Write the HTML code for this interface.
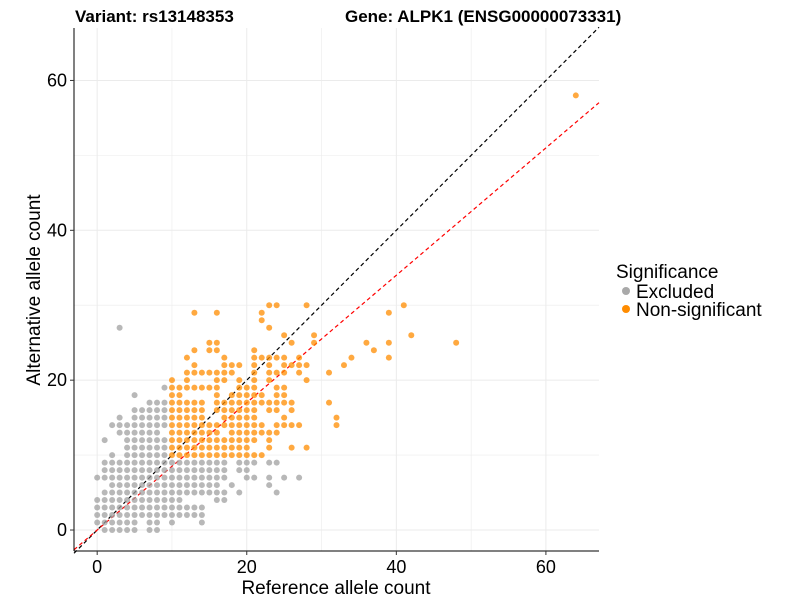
<!DOCTYPE html>
<html><head><meta charset="utf-8"><style>
body{margin:0;background:#fff}
svg text{font-family:"Liberation Sans",Arial,sans-serif}
</style></head><body>
<svg id="chart" width="800" height="600" xmlns="http://www.w3.org/2000/svg">
<text x="75" y="22" font-size="17" font-weight="bold">Variant: rs13148353</text>
<text x="345" y="22" font-size="17" font-weight="bold">Gene: ALPK1 (ENSG00000073331)</text>
<g id="grid"></g>
<g id="lines"></g>
<g id="pts"></g>
<g id="axes"></g>
<text x="336" y="594" font-size="19" text-anchor="middle">Reference allele count</text>
<text transform="translate(40,290) rotate(-90)" font-size="19" text-anchor="middle">Alternative allele count</text>
<g>
<text x="616" y="278" font-size="19">Significance</text>
<circle cx="626" cy="291" r="4" fill="#a9a9a9"/>
<text x="636" y="298" font-size="19">Excluded</text>
<circle cx="626" cy="309" r="4" fill="#ff8c00"/>
<text x="636" y="316" font-size="19">Non-significant</text>
</g>
</svg>
<script>
const xTicks=[0,20,40,60];
const yTicks=[0,20,40,60];
const minorTicks=[10,30,50];
const excludedRows={0:[1,2,3,4,5,7,8],1:[0,1,2,3,4,5,7,8,10,14],2:[0,1,2,3,4,5,6,7,8,9,10,11,12,13,14],3:[0,1,2,3,4,5,6,7,8,9,10,11,12,13,14],4:[0,1,2,3,4,5,6,7,8,9,10,11,16,17],5:[1,2,3,4,5,6,7,8,9,10,11,12,13,14,15,16,17,19,24],6:[2,3,4,5,6,7,8,9,10,11,12,13,14,15,16,18,23],7:[0,1,2,3,4,5,6,7,8,9,10,11,12,13,14,15,16,17,20,21,23,25,27],8:[1,2,3,4,5,6,7,8,9,10,11,12,13,14,15,16,17,19,20],9:[1,2,3,4,5,6,7,8,9,10,11,12,13,14,15,16,17,19,20,21,23,24],10:[2,4,5,6,7,8,9],11:[4,5,6,7,8,9],12:[1,4,5,6,7,8,9],13:[3,4,5,6,7,8],14:[2,3,4,5,6,7,8,9],15:[3,5,6,7,8,9],16:[5,6,7,8,9],17:[7,8,9],18:[5],19:[9],27:[3]};
const nonsigRows={10:[10,11,12,13,14,15,16,17,18,19,20,21,22],11:[10,11,12,13,14,15,16,17,18,19,20,23,26,28],12:[10,11,12,13,14,15,16,17,18,19,20,21,23],13:[10,11,12,13,14,15,16,18,19,20,21,22,23,24],14:[10,11,12,13,14,15,16,17,18,19,20,21,22,24,25,26,27,32],15:[10,11,12,13,14,17,18,19,20,21,25,32],16:[10,11,12,13,14,16,17,18,19,20,21,23,24,26],17:[10,11,12,13,14,16,17,18,19,20,21,22,23,24,25,26,31],18:[10,11,16,18,19,20,21,22,24,25],19:[10,11,12,13,14,15,16,19,20,21,24,25],20:[10,12,16,17,19,21,23,28],21:[12,13,14,15,16,17,18,21,23,24,25,27,31],22:[13,17,18,19,21,23,25,26,27,28,33],23:[12,17,21,22,23,24,25,27,34,39],24:[13,15,16,21,37],25:[15,16,26,29,36,39,48],26:[25,29,42],27:[23],28:[22],29:[13,16,22,39],30:[23,24,28,41],58:[64]};
const redSlope=0.85;

const NS="http://www.w3.org/2000/svg";
const L=74,R=599,T=28,B=551,xmin=-3.1,xmax=67.1,ymin=-2.8,ymax=67;
const sx=v=>L+(v-xmin)/(xmax-xmin)*(R-L);
const sy=v=>B-(v-ymin)/(ymax-ymin)*(B-T);
function mk(tag,attrs,parent){const e=document.createElementNS(NS,tag);for(const k in attrs)e.setAttribute(k,attrs[k]);parent.appendChild(e);return e;}
const grid=document.getElementById('grid');
xTicks.concat(minorTicks).forEach(v=>{
 const l=mk('line',{x1:sx(v),x2:sx(v),y1:T,y2:B,stroke:'#ebebeb','stroke-width':minorTicks.includes(v)?0.6:1},grid);
 
 
});
yTicks.concat(minorTicks).forEach(v=>{
 const l=mk('line',{x1:L,x2:R,y1:sy(v),y2:sy(v),stroke:'#ebebeb','stroke-width':minorTicks.includes(v)?0.6:1},grid);
 
 
});
const pts=document.getElementById('pts');
function drawRows(rows,color,name){
 for(const y in rows){rows[y].forEach(x=>{
  const c=mk('circle',{cx:sx(x),cy:sy(+y),r:3,fill:color,'fill-opacity':0.75},pts);
  
  
 });}
}
drawRows(excludedRows,'#a0a0a0','point-excluded');
drawRows(nonsigRows,'#ff8c00','point-nonsignificant');
const lines=document.getElementById('lines');
const d1=mk('line',{x1:sx(xmin),y1:sy(xmin),x2:sx(xmax),y2:sy(xmax),stroke:'#000','stroke-width':1.2,'stroke-dasharray':'4,3'},lines);


const d2=mk('line',{x1:sx(xmin),y1:sy(xmin*redSlope),x2:sx(xmax),y2:sy(xmax*redSlope),stroke:'#ff0000','stroke-width':1.2,'stroke-dasharray':'4,3'},lines);


const axes=document.getElementById('axes');
const ax=mk('line',{x1:L,x2:R,y1:B,y2:B,stroke:'#000','stroke-width':1},axes);


const ay=mk('line',{x1:L,x2:L,y1:T,y2:B,stroke:'#000','stroke-width':1},axes);


xTicks.forEach(v=>{
 const t=mk('line',{x1:sx(v),x2:sx(v),y1:B,y2:B+4,stroke:'#333'},axes);
 
 
 const s=mk('text',{x:sx(v),y:B+22,'font-size':18,'text-anchor':'middle'},axes);
 s.textContent=v;
 
 
});
yTicks.forEach(v=>{
 const t=mk('line',{x1:L-4,x2:L,y1:sy(v),y2:sy(v),stroke:'#333'},axes);
 
 
 const s=mk('text',{x:L-7,y:sy(v)+6,'font-size':18,'text-anchor':'end'},axes);
 s.textContent=v;
 
 
});
</script>
</body></html>
